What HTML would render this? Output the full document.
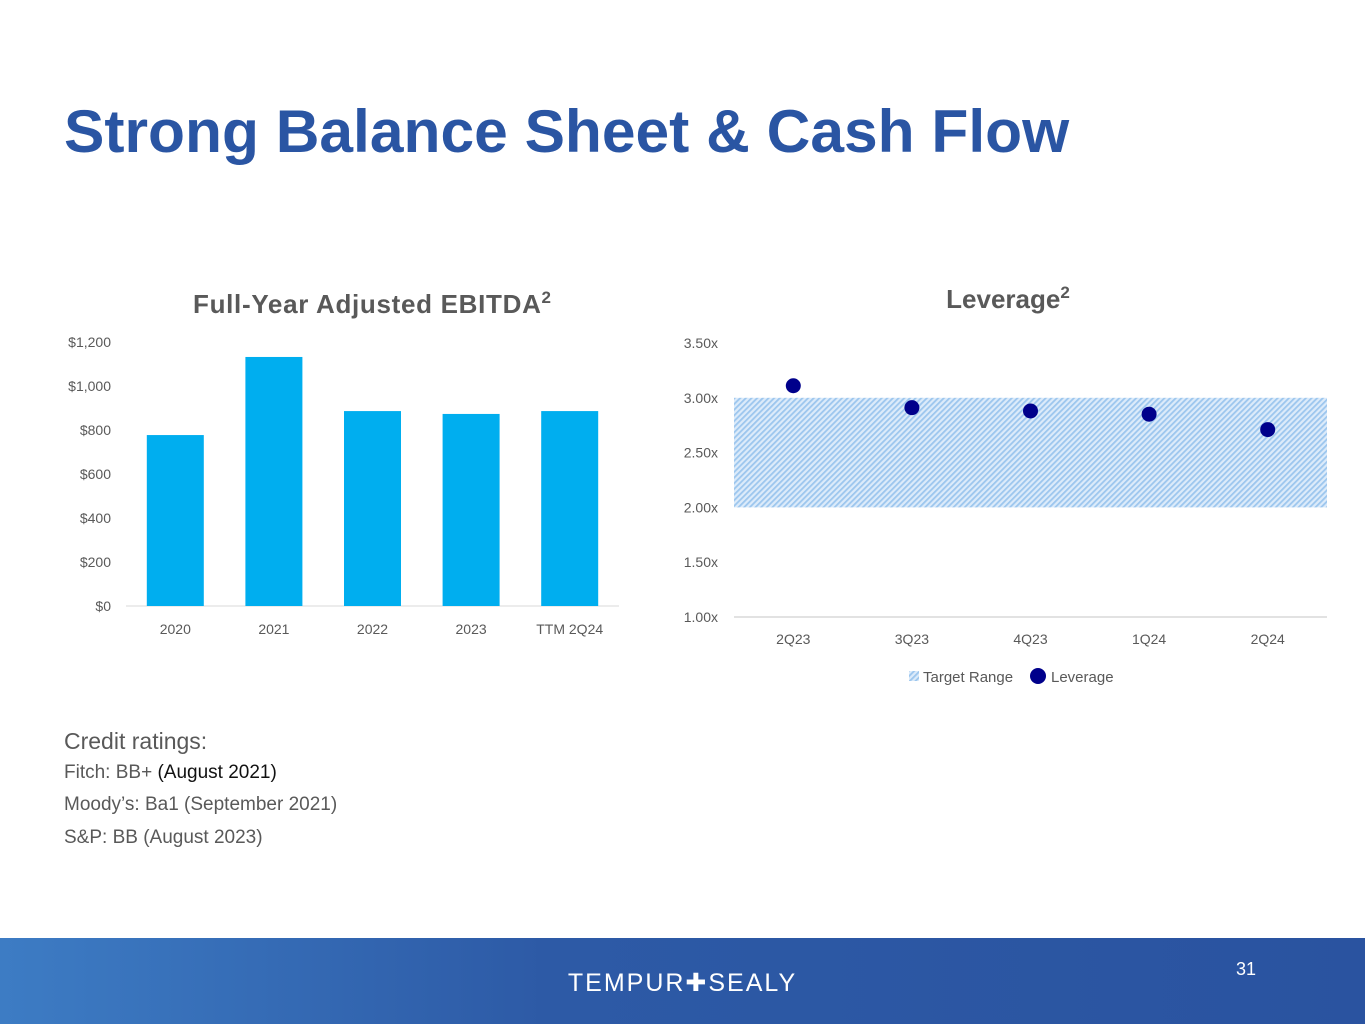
<!DOCTYPE html>
<html><head><meta charset="utf-8"><style>
body{margin:0;width:1365px;height:1024px;position:relative;background:#fff;font-family:"Liberation Sans",sans-serif;overflow:hidden}
.t{position:absolute;white-space:nowrap}
</style></head><body>
<div class="t" style="left:64px;top:96px;font-size:60.5px;font-weight:bold;color:#2a55a3">Strong Balance Sheet &amp; Cash Flow</div>
<svg id="c" width="1365" height="938" style="position:absolute;left:0;top:0" font-family="Liberation Sans, sans-serif">
<defs><pattern id="hatch" width="4" height="4" patternUnits="userSpaceOnUse" patternTransform="rotate(45)"><rect width="4" height="4" fill="#dcebfa"/><rect width="1.8" height="4" fill="#9cc6ee"/></pattern></defs>
<text x="372" y="313" text-anchor="middle" font-size="26" font-weight="bold" fill="#595959" textLength="358">Full-Year Adjusted EBITDA<tspan font-size="17" dy="-10">2</tspan></text>
<text x="1008" y="308" text-anchor="middle" font-size="26" font-weight="bold" fill="#595959">Leverage<tspan font-size="17" dy="-10">2</tspan></text>
<g id="bar"></g><g id="lev"></g>
<g>
<rect x="909" y="671" width="10" height="10" fill="url(#hatch)"/>
<text x="923" y="682" font-size="15" fill="#595959">Target Range</text>
<circle cx="1038" cy="676" r="8" fill="#00008b"/>
<text x="1051" y="682" font-size="15" fill="#595959">Leverage</text>
</g>
</svg>
<div class="t" style="left:64px;top:728px;font-size:23px;color:#595959">Credit ratings:</div>
<div class="t" style="left:64px;top:762px;font-size:19px;color:#595959">Fitch: BB+ <span style="color:#111">(August 2021)</span></div>
<div class="t" style="left:64px;top:794px;font-size:19px;color:#595959">Moody’s: Ba1 (September 2021)</div>
<div class="t" style="left:64px;top:827px;font-size:19px;color:#595959">S&amp;P: BB (August 2023)</div>
<div style="position:absolute;left:0;top:938px;width:1365px;height:86px;background:linear-gradient(90deg,#3d7cc4,#2d5aa6 40%,#2a53a0)">
<div class="t" style="left:0;width:1365px;text-align:center;top:30px;font-size:25px;letter-spacing:2px;color:#fff">TEMPUR✚SEALY</div>
<div class="t" style="left:1236px;top:21px;font-size:18px;color:#fff">31</div>
</div>
<script>
const barCats=["2020","2021","2022","2023","TTM 2Q24"];
const barVals=[777,1132,886,873,886];
const barTicks=[0,200,400,600,800,1000,1200];
const levCats=["2Q23","3Q23","4Q23","1Q24","2Q24"];
const levVals=[3.11,2.91,2.88,2.85,2.71];
const levTicks=[1.0,1.5,2.0,2.5,3.0,3.5];
const targetLow=2.0, targetHigh=3.0;
const NS="http://www.w3.org/2000/svg";
function mk(p,tag,a,txt){const e=document.createElementNS(NS,tag);for(const k in a)e.setAttribute(k,a[k]);if(txt!==undefined)e.textContent=txt;p.appendChild(e);return e;}
const bg=document.getElementById('bar');
const bx0=126,bx1=619,by0=606,by1=342;
const by=v=>by0-(v-0)/(1200-0)*(by0-by1);
const bw=(bx1-bx0)/barCats.length;
barTicks.forEach(t=>{const e=mk(bg,'text',{x:111,y:by(t)+5,'text-anchor':'end','font-size':14,fill:'#595959'},'$'+t.toLocaleString('en-US'));

});
const ax=mk(bg,'line',{x1:bx0,x2:bx1,y1:by0,y2:by0,stroke:'#d9d9d9','stroke-width':1});


barCats.forEach((c,i)=>{const cx=bx0+bw*(i+0.5);
const r=mk(bg,'rect',{x:cx-28.5,y:by(barVals[i]),width:57,height:by0-by(barVals[i]),fill:'#00aeef'});


const l=mk(bg,'text',{x:cx,y:634,'text-anchor':'middle','font-size':14,fill:'#595959'},c);

});
const lg=document.getElementById('lev');
const lx0=734,lx1=1327,ly0=617,ly1=343;
const ly=v=>ly0-(v-1)/(3.5-1)*(ly0-ly1);
const lw=(lx1-lx0)/levCats.length;
levTicks.forEach(t=>{const e=mk(lg,'text',{x:718,y:ly(t)+5,'text-anchor':'end','font-size':14,fill:'#595959'},t.toFixed(2)+'x');

});
const tr=mk(lg,'rect',{x:lx0,y:ly(targetHigh),width:lx1-lx0,height:ly(targetLow)-ly(targetHigh),fill:'url(#hatch)'});


const la=mk(lg,'line',{x1:lx0,x2:lx1,y1:ly0,y2:ly0,stroke:'#d9d9d9','stroke-width':1.5});


levCats.forEach((c,i)=>{const cx=lx0+lw*(i+0.5);
const p=mk(lg,'circle',{cx:cx,cy:ly(levVals[i]),r:7.5,fill:'#00008b'});


const l=mk(lg,'text',{x:cx,y:644,'text-anchor':'middle','font-size':14,fill:'#595959'},c);

});
</script>
</body></html>
